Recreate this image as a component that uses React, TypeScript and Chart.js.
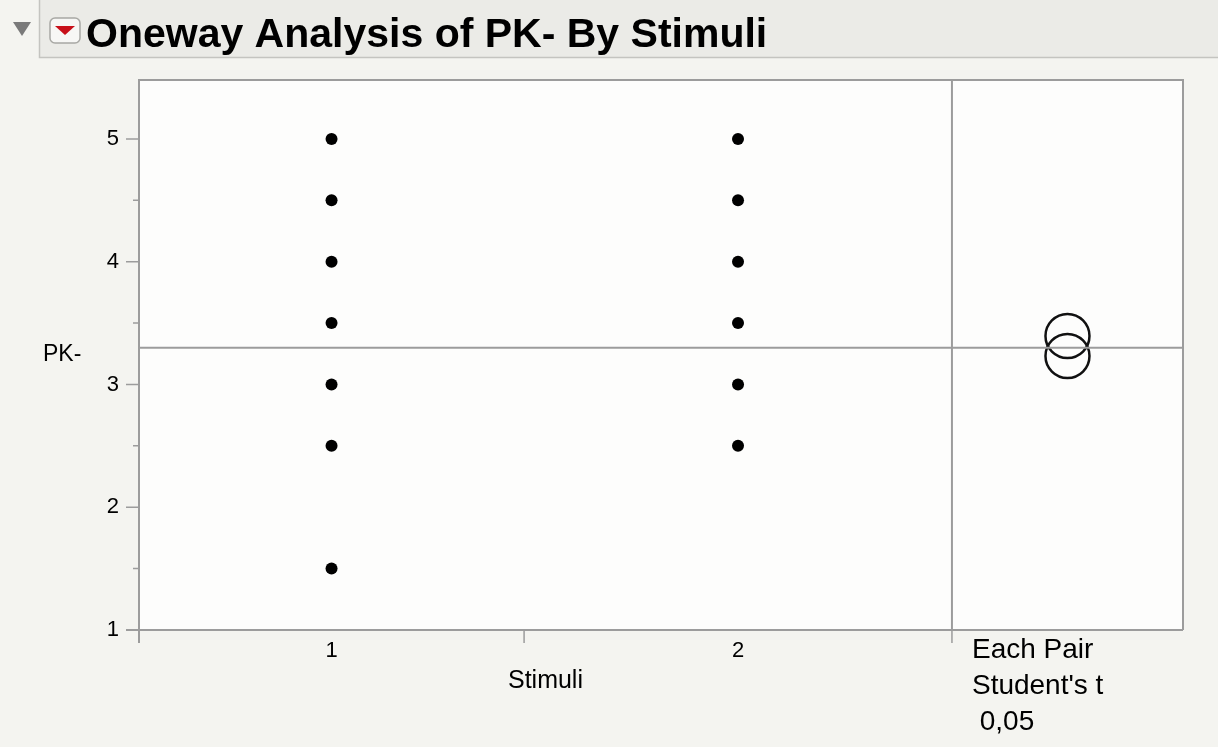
import React, { useEffect, useRef } from "react";
import { Chart, registerables } from "chart.js";

Chart.register(...registerables);

// ---- Data ----
const title = "Oneway Analysis of PK- By Stimuli";
const yTitle = "PK-";
const xTitle = "Stimuli";
const categories = ["1", "2"];
const groupWeights = [0.9, 1.0];
const pkGroup1 = [5, 4.5, 4, 3.5, 3, 2.5, 1.5];
const pkGroup2 = [5, 4.5, 4, 3.5, 3, 2.5];
const grandMean = 3.3;
const compareCenters = [3.395, 3.232];
const compareLabel = ["Each Pair", "Student's t", " 0,05"];
const yTicks = [1, 1.5, 2, 2.5, 3, 3.5, 4, 4.5, 5];
const yMin = 1;
const yMax = 5.48;

// ---- Derived positions (x in group-weight units) ----
const COMPARE_WIDTH = 0.54;
const bounds: number[] = [0];
groupWeights.forEach((w, i) => bounds.push(bounds[i] + w));
const centers = groupWeights.map((w, i) => bounds[i] + w / 2);
const dividerX = bounds[bounds.length - 1];
const xMax = dividerX + COMPARE_WIDTH;
const compareX = dividerX + COMPARE_WIDTH / 2;

const FONT = "'Liberation Sans', Arial, Helvetica, sans-serif";
const PAGE_BG = "#f4f4f0";
const AXIS = "#9c9c9c";

const decorPlugin = {
  id: "jmpDecor",
  beforeDraw(chart: any) {
    const { ctx, chartArea: ca, width, height } = chart;
    ctx.save();
    ctx.fillStyle = PAGE_BG;
    ctx.fillRect(0, 0, width, height);
    // title bar
    ctx.fillStyle = "#ebebe7";
    ctx.fillRect(40, 0, width - 40, 57);
    ctx.strokeStyle = "#c4c4c0";
    ctx.lineWidth = 1.5;
    ctx.beginPath();
    ctx.moveTo(39.5, 0);
    ctx.lineTo(39.5, 57.5);
    ctx.lineTo(width, 57.5);
    ctx.stroke();
    // disclosure triangle
    ctx.fillStyle = "#7a7a7a";
    ctx.beginPath();
    ctx.moveTo(13, 22);
    ctx.lineTo(31, 22);
    ctx.lineTo(22, 36);
    ctx.closePath();
    ctx.fill();
    // red menu button
    const bx = 50, by = 18, bw = 30, bh = 25, r = 5;
    ctx.fillStyle = "#f7f7f5";
    ctx.strokeStyle = "#a8a8a4";
    ctx.lineWidth = 1.5;
    ctx.beginPath();
    ctx.moveTo(bx + r, by);
    ctx.arcTo(bx + bw, by, bx + bw, by + bh, r);
    ctx.arcTo(bx + bw, by + bh, bx, by + bh, r);
    ctx.arcTo(bx, by + bh, bx, by, r);
    ctx.arcTo(bx, by, bx + bw, by, r);
    ctx.closePath();
    ctx.fill();
    ctx.stroke();
    ctx.fillStyle = "#c8101a";
    ctx.beginPath();
    ctx.moveTo(55, 26);
    ctx.lineTo(75, 26);
    ctx.lineTo(65, 35);
    ctx.closePath();
    ctx.fill();
    // title
    ctx.fillStyle = "#000";
    ctx.font = `bold 41px ${FONT}`;
    ctx.textBaseline = "alphabetic";
    ctx.textAlign = "left";
    ctx.fillText(title, 86, 47);
    // plot background
    ctx.fillStyle = "#fdfdfc";
    ctx.fillRect(ca.left, ca.top, ca.right - ca.left, ca.bottom - ca.top);
    ctx.restore();
  },
  afterDraw(chart: any) {
    const { ctx, chartArea: ca, scales } = chart;
    const xs = scales.x;
    const ys = scales.y;
    ctx.save();
    ctx.strokeStyle = AXIS;
    ctx.lineWidth = 2;
    // frame
    ctx.beginPath();
    ctx.moveTo(ca.left, ca.bottom + 13);
    ctx.lineTo(ca.left, ca.top);
    ctx.lineTo(ca.right, ca.top);
    ctx.lineTo(ca.right, ca.bottom);
    ctx.moveTo(ca.left - 13, ca.bottom);
    ctx.lineTo(ca.right, ca.bottom);
    ctx.stroke();
    // y tick marks
    ctx.lineWidth = 1.5;
    ctx.beginPath();
    yTicks.forEach((v) => {
      const py = ys.getPixelForValue(v);
      const len = Number.isInteger(v) ? 13 : 6;
      ctx.moveTo(ca.left - len, py);
      ctx.lineTo(ca.left, py);
    });
    // x tick marks at group bounds
    bounds.forEach((b) => {
      const px = xs.getPixelForValue(b);
      ctx.moveTo(px, ca.bottom);
      ctx.lineTo(px, ca.bottom + 13);
    });
    ctx.stroke();
    // titles
    ctx.fillStyle = "#000";
    ctx.font = `23px ${FONT}`;
    ctx.textAlign = "left";
    ctx.textBaseline = "middle";
    ctx.fillText(yTitle, 43, (ca.top + ca.bottom) / 2);
    ctx.textAlign = "center";
    ctx.font = `25px ${FONT}`;
    ctx.fillText(
      xTitle,
      (xs.getPixelForValue(0) + xs.getPixelForValue(dividerX)) / 2,
      681
    );
    ctx.textAlign = "left";
    ctx.font = `28px ${FONT}`;
    const lx = xs.getPixelForValue(dividerX) + 20;
    compareLabel.forEach((t, i) => {
      ctx.fillText(t, lx, 650 + i * 36);
    });
    ctx.restore();
  },
};

export default function App() {
  const ref = useRef<HTMLCanvasElement | null>(null);
  useEffect(() => {
    if (!ref.current) return;
    const points = [
      ...pkGroup1.map((y) => ({ x: centers[0], y })),
      ...pkGroup2.map((y) => ({ x: centers[1], y })),
    ];
    const chart = new Chart(ref.current, {
      type: "scatter",
      data: {
        datasets: [
          {
            type: "line",
            data: [
              { x: 0, y: grandMean },
              { x: xMax, y: grandMean },
            ],
            borderColor: AXIS,
            borderWidth: 2,
            pointRadius: 0,
            showLine: true,
          } as any,
          {
            type: "line",
            data: [
              { x: dividerX, y: yMin },
              { x: dividerX, y: yMax },
            ],
            borderColor: AXIS,
            borderWidth: 2,
            pointRadius: 0,
            showLine: true,
          } as any,
          {
            data: points,
            backgroundColor: "#000",
            borderWidth: 0,
            pointRadius: 6,
            pointHoverRadius: 6,
          },
          {
            data: compareCenters.map((y) => ({ x: compareX, y })),
            backgroundColor: "rgba(0,0,0,0)",
            borderColor: "#111",
            borderWidth: 2.5,
            pointRadius: 22,
            pointHoverRadius: 22,
          },
        ],
      },
      options: {
        animation: false,
        responsive: false,
        devicePixelRatio: 1,
        events: [],
        layout: { padding: { top: 80, right: 35, left: 0, bottom: 0 } },
        plugins: {
          legend: { display: false },
          tooltip: { enabled: false },
        },
        scales: {
          x: {
            type: "linear",
            min: 0,
            max: xMax,
            grid: { display: false, drawTicks: false, tickLength: 0 },
            border: { display: false },
            afterBuildTicks: (scale: any) => {
              scale.ticks = centers.map((v) => ({ value: v }));
            },
            afterFit: (scale: any) => {
              scale.height = 117;
            },
            ticks: {
              autoSkip: false,
              maxRotation: 0,
              padding: 8,
              color: "#000",
              font: { family: FONT, size: 22 },
              callback: (_v: any, i: number) => categories[i],
            },
          },
          y: {
            type: "linear",
            min: yMin,
            max: yMax,
            grid: { display: false, drawTicks: false, tickLength: 0 },
            border: { display: false },
            afterBuildTicks: (scale: any) => {
              scale.ticks = yTicks.map((v) => ({ value: v }));
            },
            afterFit: (scale: any) => {
              scale.width = 139;
            },
            ticks: {
              autoSkip: false,
              padding: 20,
              color: "#000",
              font: { family: FONT, size: 22 },
              callback: (v: any) => (Number.isInteger(v) ? String(v) : ""),
            },
          },
        },
      },
      plugins: [decorPlugin],
    });
    return () => chart.destroy();
  }, []);
  return (
    <div style={{ position: "fixed", left: 0, top: 0, width: 1218, height: 747 }}>
      <canvas ref={ref} width={1218} height={747} />
    </div>
  );
}
